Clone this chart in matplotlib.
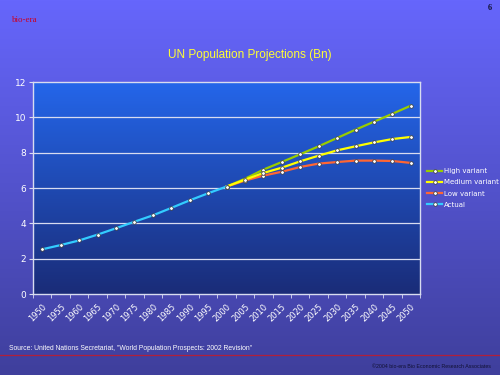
import numpy as np
import matplotlib
matplotlib.use('Agg')
import matplotlib.pyplot as plt
from matplotlib.colors import LinearSegmentedColormap

years = [str(y) for y in range(1950, 2055, 5)]
actual = [2.53, 2.77, 3.03, 3.36, 3.72, 4.09, 4.45, 4.87, 5.30, 5.70, 6.08]
high = [6.08, 6.52, 7.04, 7.47, 7.91, 8.36, 8.83, 9.30, 9.75, 10.20, 10.66]
medium = [6.08, 6.47, 6.85, 7.15, 7.51, 7.83, 8.13, 8.36, 8.58, 8.77, 8.89]
low = [6.08, 6.42, 6.70, 6.92, 7.19, 7.38, 7.47, 7.55, 7.55, 7.53, 7.42]

fig = plt.figure(figsize=(5, 3.75), dpi=100)

# slide background gradient
bg = fig.add_axes([0, 0, 1, 1])
bg.set_axis_off()
grad = np.linspace(0, 1, 256).reshape(-1, 1)
bg_cmap = LinearSegmentedColormap.from_list('bg', ['#6666fc', '#3f3f9c'])
bg.imshow(grad, aspect='auto', cmap=bg_cmap, extent=[0, 1, 0, 1], origin='upper')
bg.set_xlim(0, 1)
bg.set_ylim(0, 1)
bg.plot([0, 1], [1 - 354.5/375, 1 - 354.5/375], color='#b0203a', lw=0.9)

ax = fig.add_axes([33/500, 1 - 294/375, (420-33)/500, (294-82)/375])
ax.set_facecolor('none')
x_act = np.arange(len(actual))
x_proj = np.arange(len(actual) - 1, len(years))

pa_cmap = LinearSegmentedColormap.from_list('pa', ['#2466ea', '#1a2c78'])
ax.imshow(grad, aspect='auto', cmap=pa_cmap, extent=[-0.5, len(years) - 0.5, 0, 12],
          origin='upper', zorder=0)

for v in range(2, 12, 2):
    ax.axhline(v, color='#d8dcf0', lw=0.9, zorder=1)

mk = dict(marker='o', markersize=2.6, markerfacecolor='white',
          markeredgecolor='#333333', markeredgewidth=0.5)
ax.plot(x_proj, high, color='#99cc00', lw=1.6, label='High variant', zorder=3, **mk)
ax.plot(x_proj, medium, color='#ffff00', lw=1.6, label='Medium variant', zorder=4, **mk)
ax.plot(x_proj, low, color='#ff6633', lw=1.6, label='Low variant', zorder=3, **mk)
ax.plot(x_act, actual, color='#33ccff', lw=1.6, label='Actual', zorder=5, **mk)

ax.set_xlim(-0.5, len(years) - 0.5)
ax.set_ylim(0, 12)
ax.set_yticks(range(0, 13, 2))
ax.set_xticks(np.arange(len(years)))
ax.set_xticklabels(years, rotation=45, ha='right', rotation_mode='anchor')
ax.set_xticks(np.arange(-0.5, len(years)), minor=True)
ax.tick_params(axis='x', which='major', length=0, pad=6, labelsize=6.0, colors='white')
ax.tick_params(axis='x', which='minor', length=3, color='#d8dcf0')
ax.tick_params(axis='y', length=3, color='#d8dcf0', labelsize=6.5, labelcolor='white', pad=2)
for s in ax.spines.values():
    s.set_color('#d8dcf0')
    s.set_linewidth(1.0)

leg = ax.legend(loc='center left', bbox_to_anchor=(1.018, 0.5), frameon=False,
                fontsize=5.0, handlelength=2.2, handletextpad=0.2, labelspacing=0.75,
                borderaxespad=0, borderpad=0)
for t in leg.get_texts():
    t.set_color('white')

fig.text(0.5, 1 - 55/375, 'UN Population Projections (Bn)', color='#ffff33',
         fontsize=8.5, ha='center', va='center', family='Liberation Sans')
fig.text(12/500, 1 - 20/375, 'bio-era', color='#cc0022', fontsize=6.5,
         family='Liberation Serif', va='center')
fig.text(490/500, 1 - 8/375, '6', color='#111133', fontsize=6, fontweight='bold',
         ha='center', va='center', family='Liberation Serif')
fig.text(9/500, 1 - 349/375, 'Source: United Nations Secretariat, "World Population Prospects: 2002 Revision"',
         color='white', fontsize=4.9, va='center', family='Liberation Sans')
fig.text(491/500, 1 - 367/375, '\u00a92004 bio-era Bio Economic Research Associates',
         color='#111133', fontsize=3.8, ha='right', va='center', family='Liberation Sans')

fig.savefig('out.png', dpi=100)
